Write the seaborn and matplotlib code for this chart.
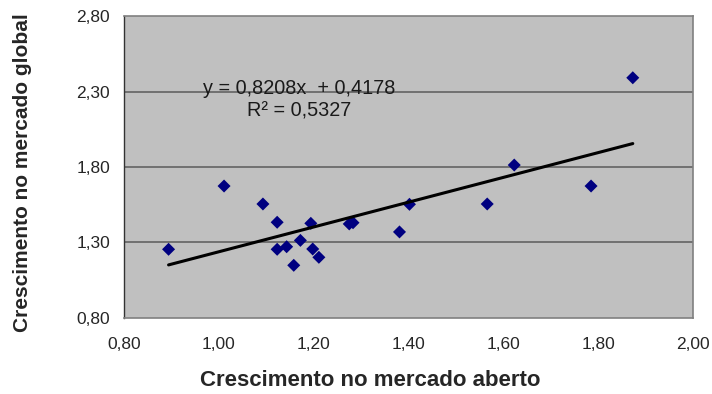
import numpy as np
import pandas as pd
import matplotlib
matplotlib.use("Agg")
import matplotlib.pyplot as plt
import seaborn as sns

# Growth in the open market (x) versus growth in the global market (y)
open_market = [0.894, 1.011, 1.093, 1.123, 1.123, 1.143, 1.158, 1.172, 1.194, 1.198,
               1.211, 1.275, 1.283, 1.381, 1.402, 1.566, 1.623, 1.785, 1.873]
global_market = [1.255, 1.674, 1.555, 1.434, 1.255, 1.272, 1.149, 1.314, 1.427, 1.257,
                 1.202, 1.423, 1.431, 1.370, 1.553, 1.555, 1.813, 1.674, 2.391]

# Linear trend coefficients
slope = 0.8208
intercept = 0.4178
r_squared = 0.5327

x_ticks = [0.80, 1.00, 1.20, 1.40, 1.60, 1.80, 2.00]
y_ticks = [0.80, 1.30, 1.80, 2.30, 2.80]

x_label = "Crescimento no mercado aberto"
y_label = "Crescimento no mercado global"

sns.set_theme(style="white")
plt.rcParams["font.family"] = ["Liberation Sans", "DejaVu Sans"]

df = pd.DataFrame({"x": open_market, "y": global_market})
x_span = np.array([min(open_market), max(open_market)])
trend = pd.DataFrame({"x": x_span, "y": slope * x_span + intercept})

fig = plt.figure(figsize=(7.12, 3.94), dpi=100)
ax = fig.add_axes([124 / 712, 1 - 318 / 394, (693 - 124) / 712, (318 - 16) / 394])
ax.set_facecolor("#c0c0c0")

for yv in y_ticks[1:-1]:
    ax.axhline(yv, color="#6a6a6a", lw=1.3, zorder=1)

sns.scatterplot(data=df, x="x", y="y", marker="D", s=44, color="#000080",
                edgecolor="none", ax=ax, zorder=3)
sns.lineplot(data=trend, x="x", y="y", color="black", lw=2.2, ax=ax, zorder=4)

ax.set_xlim(0.80, 2.00)
ax.set_ylim(0.80, 2.80)
ax.set_xticks(x_ticks)
ax.set_yticks(y_ticks)
ax.set_xticklabels([f"{v:.2f}".replace(".", ",") for v in x_ticks], fontsize=12.5)
ax.set_yticklabels([f"{v:.2f}".replace(".", ",") for v in y_ticks], fontsize=12.5)
ax.tick_params(axis="x", direction="out", length=5, width=1, color="#333333", pad=9)
ax.tick_params(axis="y", direction="out", length=6, width=1, color="#333333", pad=4)

for side in ["top", "right", "bottom"]:
    ax.spines[side].set_color("#808080")
    ax.spines[side].set_linewidth(1.2)
ax.spines["left"].set_color("#333333")
ax.spines["left"].set_linewidth(1.0)

ax.set_xlabel(x_label, fontsize=16, fontweight="bold")
ax.xaxis.label.set_va("center")
ax.xaxis.set_label_coords((370 - 124) / 569, (318 - 381) / 302)
ax.set_ylabel(y_label, fontsize=15, fontweight="bold")
ax.yaxis.label.set_va("center")
ax.yaxis.set_label_coords((23 - 124) / 569, (318 - 173) / 302)

eq = f"y = {slope:.4f}x  + {intercept:.4f}".replace(".", ",")
r2 = f"R² = {r_squared:.4f}".replace(".", ",")
ax.text(1.17, 2.318, eq, ha="center", va="center", fontsize=14.3, color="#1a1a1a", zorder=5)
ax.text(1.17, 2.172, r2, ha="center", va="center", fontsize=14.3, color="#1a1a1a", zorder=5)

fig.savefig("out.png", dpi=100)
